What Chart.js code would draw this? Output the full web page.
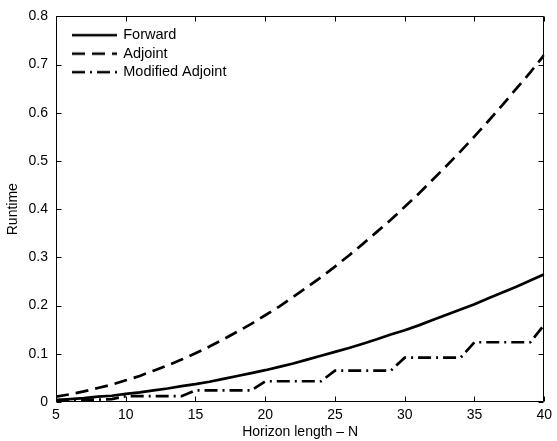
<!DOCTYPE html>
<html>
<head>
<meta charset="utf-8">
<script src="https://cdn.jsdelivr.net/npm/chart.js@4/dist/chart.umd.min.js"></script>
<style>
  html, body { margin: 0; padding: 0; background: #fff; }
  #wrap { width: 557px; height: 441px; }
</style>
</head>
<body>
<div id="wrap"><canvas id="c" width="557" height="441"></canvas></div>
<script>
const horizon = [5,6,7,8,9,10,11,12,13,14,15,16,17,18,19,20,21,22,23,24,25,26,27,28,29,30,31,32,33,34,35,36,37,38,39,40];
const forward = [0.004,0.006,0.008,0.011,0.013,0.017,0.020,0.024,0.028,0.033,0.037,0.042,0.048,0.054,0.060,0.066,0.073,0.080,0.088,0.096,0.104,0.112,0.121,0.130,0.140,0.149,0.159,0.170,0.181,0.192,0.203,0.215,0.227,0.239,0.252,0.265];
const adjoint = [0.011,0.016,0.022,0.029,0.036,0.045,0.054,0.065,0.076,0.088,0.101,0.115,0.130,0.146,0.162,0.180,0.198,0.218,0.238,0.259,0.281,0.304,0.328,0.353,0.378,0.405,0.432,0.461,0.490,0.520,0.551,0.583,0.616,0.650,0.684,0.720];
const modifiedAdjoint = [0.004,0.004,0.005,0.005,0.006,0.012,0.012,0.012,0.012,0.012,0.024,0.024,0.024,0.024,0.024,0.043,0.043,0.043,0.043,0.043,0.065,0.065,0.065,0.065,0.065,0.092,0.092,0.092,0.092,0.092,0.124,0.124,0.124,0.124,0.124,0.160];
const seriesNames = ['Forward', 'Adjoint', 'Modified Adjoint'];
const xTicks = [5,10,15,20,25,30,35,40];
const yTicks = [0,0.1,0.2,0.3,0.4,0.5,0.6,0.7,0.8];
const xTitle = 'Horizon length \u2013 N';
const yTitle = 'Runtime';

const FONT = "'Liberation Sans', Arial, Helvetica, sans-serif";
const LW = 2.7;
const dashes = [[], [13, 7], [13, 5, 2, 5]];

function pts(ys) { return horizon.map((x, i) => ({ x: x, y: ys[i] })); }

function legendIcon(dash) {
  const c = document.createElement('canvas');
  c.width = 45; c.height = 6;
  const g = c.getContext('2d');
  g.strokeStyle = '#000';
  g.lineWidth = LW;
  g.setLineDash(dash);
  g.beginPath();
  g.moveTo(0, 3); g.lineTo(45, 3);
  g.stroke();
  return c;
}

const boxTicks = {
  id: 'boxTicks',
  afterLayout(chart) {
    const lg = chart.legend;
    if (lg) {
      const ca = chart.chartArea;
      lg.left = ca.left + 13;
      lg.top = ca.top + 7.5;
      lg.right = lg.left + lg.width;
      lg.bottom = ca.bottom;
    }
  },
  afterDraw(chart) {
    const ctx = chart.ctx, ca = chart.chartArea;
    const xs = chart.scales.x, ys = chart.scales.y;
    const L = Math.round(ca.left) + 0.5, R = Math.round(ca.right) - 0.5;
    const T = Math.round(ca.top) + 0.5, B = Math.round(ca.bottom) - 0.5;
    ctx.save();
    ctx.strokeStyle = '#000';
    ctx.lineWidth = 1;
    ctx.setLineDash([]);
    ctx.beginPath();
    ctx.rect(L, T, R - L, B - T);
    const tl = 5;
    xTicks.forEach(v => {
      const p = Math.round(xs.getPixelForValue(v)) + 0.5;
      ctx.moveTo(p, B); ctx.lineTo(p, B - tl);
      ctx.moveTo(p, T); ctx.lineTo(p, T + tl);
    });
    yTicks.forEach(v => {
      const p = Math.round(ys.getPixelForValue(v)) + 0.5;
      ctx.moveTo(L, p); ctx.lineTo(L + tl, p);
      ctx.moveTo(R, p); ctx.lineTo(R - tl, p);
    });
    ctx.stroke();
    ctx.restore();
  }
};

const seriesData = [forward, adjoint, modifiedAdjoint];

new Chart(document.getElementById('c'), {
  type: 'line',
  data: {
    datasets: seriesData.map((d, i) => ({
      label: seriesNames[i],
      data: pts(d),
      borderColor: '#000',
      backgroundColor: '#000',
      borderWidth: LW,
      borderDash: dashes[i],
      pointRadius: 0,
      pointStyle: legendIcon(dashes[i]),
      fill: false,
      tension: 0
    }))
  },
  options: {
    responsive: false,
    animation: false,
    layout: { padding: { top: 15, right: 10, left: 0, bottom: 0 } },
    plugins: {
      tooltip: { enabled: false },
      legend: {
        position: 'chartArea',
        align: 'start',
        labels: {
          usePointStyle: true,
          pointStyleWidth: 43,
          padding: 4,
          color: '#000',
          font: { family: FONT, size: 14.5 }
        }
      }
    },
    scales: {
      x: {
        type: 'linear',
        min: 5, max: 40,
        afterFit(s) { s.height = 39; },
        afterBuildTicks(s) { s.ticks = xTicks.map(v => ({ value: v })); },
        grid: { display: false, drawTicks: false },
        border: { display: false },
        ticks: { color: '#000', padding: 5, maxRotation: 0, font: { family: FONT, size: 14 }, callback: v => String(v) },
        title: { display: true, text: xTitle, color: '#000', padding: { top: 0, bottom: 0 }, font: { family: FONT, size: 14 } }
      },
      y: {
        type: 'linear',
        min: 0, max: 0.8,
        afterFit(s) { s.width = 56; },
        afterBuildTicks(s) { s.ticks = yTicks.map(v => ({ value: v })); },
        grid: { display: false, drawTicks: false },
        border: { display: false },
        ticks: { color: '#000', padding: 8, font: { family: FONT, size: 14 }, callback: v => String(+v.toFixed(1)) },
        title: { display: true, text: yTitle, color: '#000', padding: { top: 5, bottom: 0 }, font: { family: FONT, size: 14 } }
      }
    }
  },
  plugins: [boxTicks]
});
</script>
</body>
</html>
